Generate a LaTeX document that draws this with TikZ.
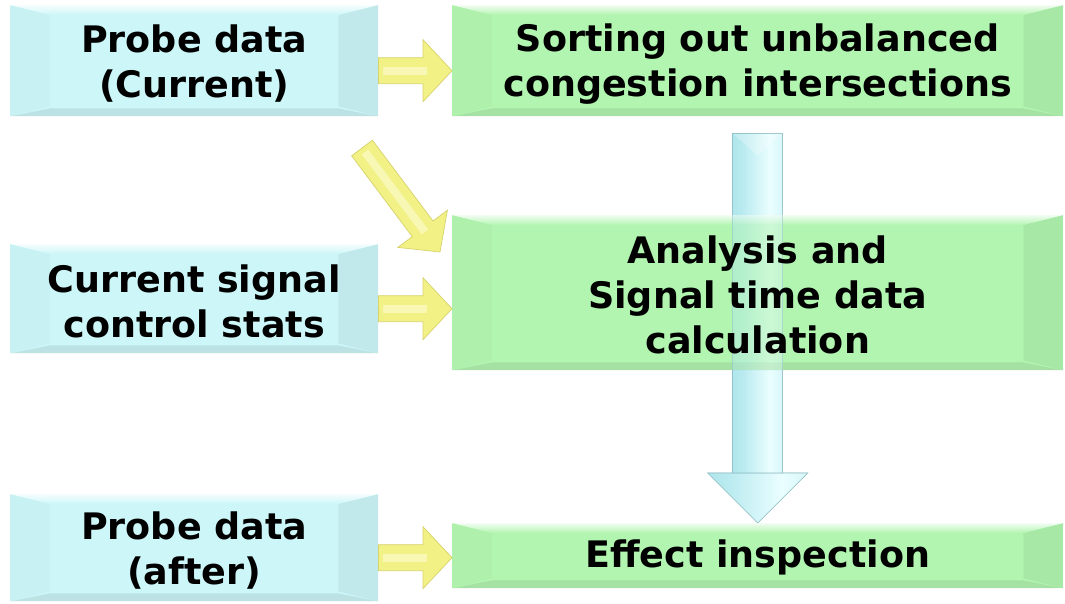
\documentclass[tikz,border=0pt]{standalone}
\usepackage{fontspec}
\setmainfont{DejaVu Sans}
\usetikzlibrary{calc,backgrounds}
\definecolor{boxblue}{HTML}{CCF6F8}
\definecolor{boxgreen}{HTML}{B2F5B0}
\definecolor{arrowyellow}{HTML}{F2F186}
\definecolor{arrowyellowdark}{HTML}{D6D26C}
\definecolor{arrowyellowlight}{HTML}{F8F8B4}
\definecolor{arrowblue}{HTML}{A4E2E9}
\definecolor{arrowbluedark}{HTML}{6FA8B0}
\definecolor{arrowbluelight}{HTML}{EAFEFF}
\pgfdeclarehorizontalshading{bluebar}{100bp}{color(0bp)=(arrowbluedark); color(14bp)=(arrowblue); color(35bp)=(arrowblue!70!arrowbluelight); color(62bp)=(arrowbluelight); color(100bp)=(arrowblue!80!arrowbluelight)}
\tikzset{
  box/.style={anchor=north west, inner sep=0pt, align=center, text=black,
    font=\fontsize{36.5}{45}\selectfont\bfseries},
  yellowarrow/.style={fill=arrowyellow, draw=arrowyellowdark, line width=0.7pt, line join=miter},
}
% #1 start, #2 end, #3 half shaft, #4 half head, #5 head length
\newcommand\blockarrow[5]{%
  \coordinate (ba-s) at #1;
  \coordinate (ba-e) at #2;
  \coordinate (ba-h) at ($(ba-e)!#5!(ba-s)$);
  \path[yellowarrow] ($(ba-s)!#3!90:(ba-e)$) -- ($(ba-h)!#3!90:(ba-e)$) -- ($(ba-h)!#4!90:(ba-e)$) -- (ba-e)
     -- ($(ba-h)!#4!-90:(ba-e)$) -- ($(ba-h)!#3!-90:(ba-e)$) -- ($(ba-s)!#3!-90:(ba-e)$) -- cycle;
  \draw[arrowyellowlight, line width=8pt, line cap=butt] ($(ba-s)!5pt!(ba-e)$) -- ($(ba-h)!4pt!(ba-e)$);
}
% #1 node, #2 colour
\newcommand\facetbox[2]{%
  \fill[#2] (#1.north west) rectangle (#1.south east);
  \fill[black, fill opacity=0.02] (#1.north west) -- ($(#1.north west)+(40,10)$) -- ($(#1.south west)+(40,-10)$) -- (#1.south west) -- cycle;
  \fill[black, fill opacity=0.05] (#1.north east) -- ($(#1.north east)+(-40,10)$) -- ($(#1.south east)+(-40,-10)$) -- (#1.south east) -- cycle;
  \fill[black, fill opacity=0.08] (#1.south west) -- ($(#1.south west)+(40,-8)$) -- ($(#1.south east)+(-40,-8)$) -- (#1.south east) -- cycle;
  \shade[top color=white, bottom color=#2, fill opacity=0.85] (#1.north west) -- ($(#1.north west)+(40,10)$) -- ($(#1.north east)+(-40,10)$) -- (#1.north east) -- cycle;
}
% #1 opacity
\newcommand\bluearrow[1]{%
  \shade[shading=bluebar, draw=arrowbluedark!80, line width=0.6pt, fill opacity=#1, draw opacity=#1] ($(bs)+(-25,0)$) rectangle ($(bh)+(25,0)$);
  \shade[shading=bluebar, draw=arrowbluedark!80, line width=0.6pt, fill opacity=#1, draw opacity=#1] ($(bh)+(-50,0)$) -- ($(bh)+(50,0)$) -- (F.north) -- cycle;
  \fill[white, fill opacity=0.3*#1] ($(bs)+(-24,1)$) -- ($(bs)+(24,1)$) -- ($(bs)+(0,22)$) -- cycle;
}
\begin{document}
\begin{tikzpicture}[x=1pt,y=-1pt]
\useasboundingbox (0,0) rectangle (1065,603);
% boxes (text)
\node[box, minimum width=368pt, minimum height=111pt] (A) at (10,5) {\rule{0pt}{34pt}Probe data\\(Current)};
\node[box, minimum width=611pt, minimum height=111pt] (B) at (452,5) {\rule{0pt}{34pt}Sorting out unbalanced\\congestion intersections};
\node[box, minimum width=368pt, minimum height=109pt] (C) at (10,244) {\rule{0pt}{34pt}Current signal\\control stats};
\node[box, minimum width=611pt, minimum height=155pt] (D) at (452,215) {\rule{0pt}{32pt}Analysis and\\Signal time data\\calculation};
\node[box, minimum width=368pt, minimum height=107pt] (E) at (10,494) {\rule{0pt}{34pt}Probe data\\(after)};
\node[box, minimum width=611pt, minimum height=65pt] (F) at (452,523) {\rule{0pt}{32pt}Effect inspection};
\coordinate (dtail) at (362,148);
\begin{pgfonlayer}{background}
  \coordinate (bs) at ($(B.south)+(0,17)$);
  \coordinate (bh) at ($(F.north)+(0,-50)$);
  % big blue arrow B -> F (under and over the analysis box)
  \bluearrow{1}
  % boxes
  \facetbox{A}{boxblue}
  \facetbox{B}{boxgreen}
  \facetbox{C}{boxblue}
  \facetbox{D}{boxgreen}
  \facetbox{E}{boxblue}
  \facetbox{F}{boxgreen}
  \bluearrow{0.45}
  % yellow arrows
  \blockarrow{($(A.east)+(0,10)$)}{($(B.west)+(0,10)$)}{13pt}{31pt}{29pt}
  \blockarrow{($(C.east)+(0,10)$)}{($(D.west)+(0,16)$)}{13pt}{31pt}{29pt}
  \blockarrow{($(E.east)+(0,10)$)}{($(F.west)+(0,2)$)}{13pt}{31pt}{29pt}
  \blockarrow{(dtail)}{($(D.north west)+(-12,37)$)}{13pt}{31pt}{29pt}
\end{pgfonlayer}
\end{tikzpicture}
\end{document}
